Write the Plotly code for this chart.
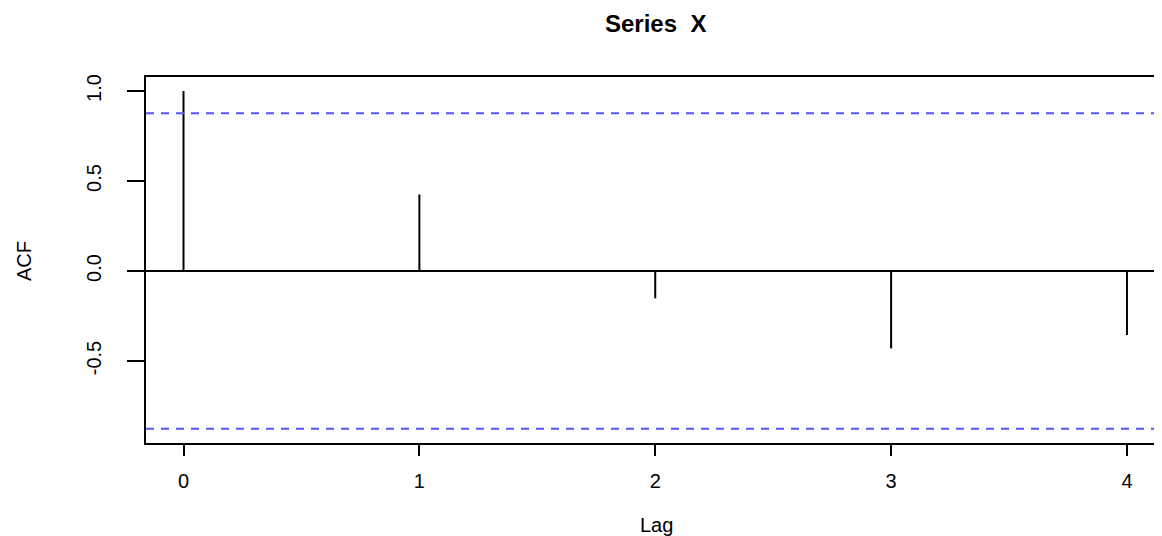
import plotly.graph_objects as go

# ---- data ----
lags = [0, 1, 2, 3, 4]
acf_values = [1.0, 0.425, -0.152, -0.43, -0.356]
conf_limit = 0.8765
x_tick_vals = [0, 1, 2, 3, 4]
x_tick_text = ["0", "1", "2", "3", "4"]
y_tick_vals = [-0.5, 0.0, 0.5, 1.0]
y_tick_text = ["-0.5", "0.0", "0.5", "1.0"]
title_text = "Series  X"
x_title = "Lag"
y_title = "ACF"

# the page body adds an 8px margin; lay out in figure pixels = screen - 8
OFF = 8
W, H = 1162 - OFF, 536 - OFF
L, R, T, B = 146 - OFF, 0, 77 - OFF, 536 - 443
FONT = "Liberation Sans, Arial, sans-serif"

# stem segments built from the data
seg_x, seg_y = [], []
for lag, v in zip(lags, acf_values):
    seg_x += [lag, lag, None]
    seg_y += [0, v, None]

fig = go.Figure()
fig.add_trace(go.Scatter(x=seg_x, y=seg_y, mode="lines",
                         line=dict(color="black", width=2), hoverinfo="skip",
                         showlegend=False))

for c in (conf_limit, -conf_limit):
    fig.add_shape(type="line", xref="paper", x0=0, x1=1, yref="y", y0=c, y1=c,
                  line=dict(color="#5555ff", width=1.8, dash="8px,7px"))

def px_x(p):  # p in screen pixels
    return (p - OFF - L) / (W - L - R)

def px_y(p):
    return 1 - (p - OFF - T) / (H - T - B)

fig.add_annotation(text="<b>" + title_text + "</b>", xref="paper", yref="paper",
                   x=px_x(655), y=px_y(24), showarrow=False,
                   font=dict(family=FONT, size=24, color="black"),
                   xanchor="center", yanchor="middle")
fig.add_annotation(text=x_title, xref="paper", yref="paper",
                   x=px_x(656), y=px_y(525), showarrow=False,
                   font=dict(family=FONT, size=20, color="black"),
                   xanchor="center", yanchor="middle")
fig.add_annotation(text=y_title, xref="paper", yref="paper",
                   x=px_x(24), y=px_y(261), showarrow=False, textangle=-90,
                   font=dict(family=FONT, size=20, color="black"),
                   xanchor="center", yanchor="middle")

fig.update_layout(
    width=W, height=H,
    margin=dict(l=L, r=R, t=T, b=B, pad=0),
    paper_bgcolor="white", plot_bgcolor="white",
    font=dict(family=FONT, size=20, color="black"),
    showlegend=False,
)
fig.update_xaxes(range=[-0.159, 4.1485], tickvals=x_tick_vals, ticktext=x_tick_text,
                 showgrid=False, zeroline=False, showline=True, mirror=True,
                 linecolor="black", linewidth=1.5, ticks="outside", ticklen=11,
                 tickwidth=1.5, tickcolor="black", ticklabelstandoff=8,
                 tickfont=dict(family=FONT, size=20, color="black"))
fig.update_yaxes(range=[-0.9556, 1.0778], tickvals=y_tick_vals, ticktext=y_tick_text,
                 showgrid=False, zeroline=True, zerolinecolor="black", zerolinewidth=1.5,
                 showline=True, mirror=False, linecolor="black", linewidth=1.5,
                 ticks="outside", ticklen=17, tickwidth=1.5, tickcolor="black",
                 tickangle=-90, ticklabelstandoff=18,
                 tickfont=dict(family=FONT, size=20, color="black"))

fig.write_html("out.html")
